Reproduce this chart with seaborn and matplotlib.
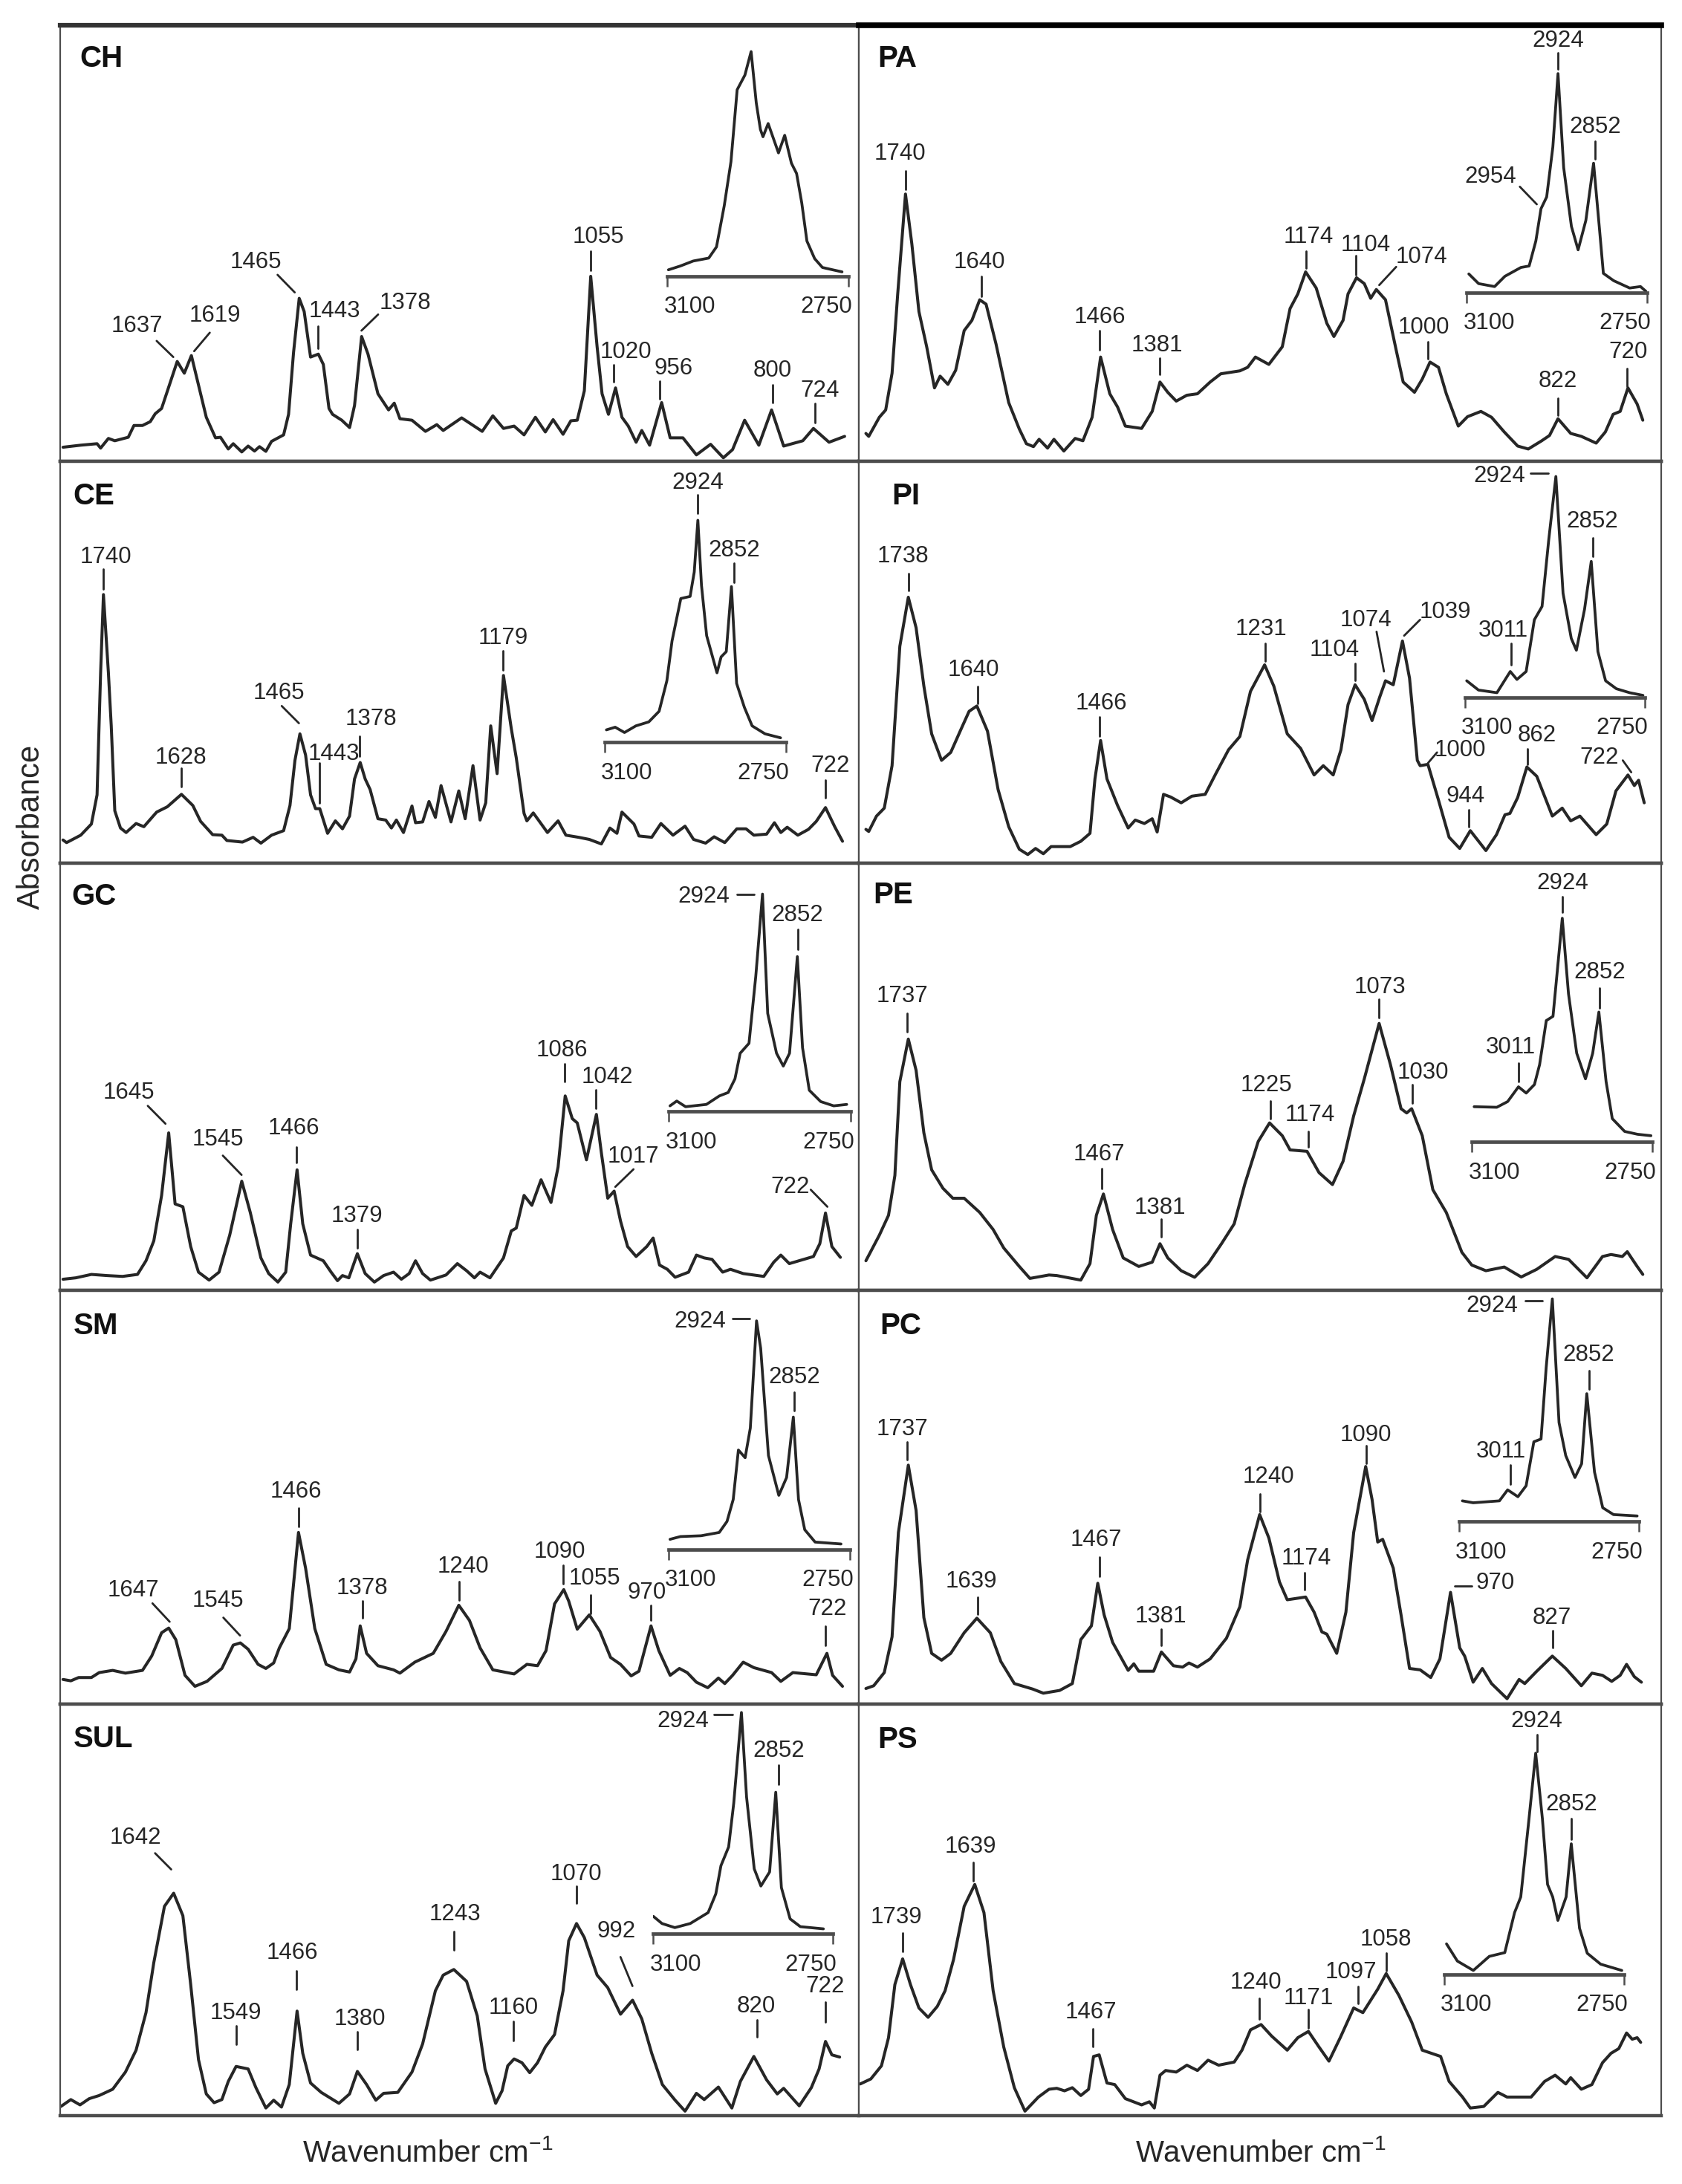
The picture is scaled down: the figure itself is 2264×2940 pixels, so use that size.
#!/usr/bin/env python3
"""FTIR spectra of lipid classes, ten panels with CH stretch insets."""

import matplotlib
matplotlib.use("Agg")
import matplotlib.pyplot as plt
import seaborn as sns
from matplotlib.lines import Line2D
from matplotlib.transforms import ScaledTranslation

# ---- spectra: wavenumber (cm-1) and absorbance (arbitrary units) ----
CH_WN = [1797,1772,1749,1744,1733,1724,1705,1697,1685,1674,1667,1658,1647,1636,1626,1616,1606,1595,1582,1575,1564,1557,1545,1536,1527,1520,1511,1503,1486,1479,1472,1464,1457,1448,1437,1430,1422,1417,1404,1393,1386,1376,1367,1353,1338,1330,1322,1305,1286,1270,1261,1235,1206,1191,1176,1161,1147,1131,1117,1106,1092,1081,1072,1062,1053,1044,1037,1028,1018,1009,1000,989,981,970,953,941,923,904,884,866,853,836,816,798,781,754,739,717,695]
CH_ABS = [28,35,40,25,58,50,62,102,102,115,142,160,240,320,280,340,240,130,60,62,22,40,12,32,15,30,14,48,70,140,350,535,490,335,345,310,160,140,120,95,170,405,345,210,155,178,125,120,82,105,85,128,82,135,92,100,70,130,80,122,72,118,120,220,610,370,210,140,230,130,100,45,85,35,180,60,60,2,38,-8,20,120,35,155,32,50,92,45,65]
CH_INSET_WN = [3098,3075,3050,3020,3005,2990,2977,2965,2950,2938,2928,2920,2915,2905,2885,2873,2860,2850,2840,2830,2815,2800,2780,2762]
CH_INSET_ABS = [632,645,662,672,710,850,1000,1245,1295,1375,1200,1110,1085,1130,1030,1090,995,960,860,730,670,640,632,625]

CE_WN = [1797,1792,1772,1757,1749,1744,1740,1733,1729,1724,1716,1708,1694,1683,1665,1650,1630,1614,1603,1586,1573,1566,1544,1529,1518,1503,1486,1477,1470,1463,1455,1448,1441,1435,1424,1413,1403,1393,1386,1378,1371,1364,1353,1342,1334,1327,1317,1305,1300,1290,1281,1272,1264,1250,1239,1230,1219,1209,1201,1194,1185,1176,1165,1158,1147,1143,1134,1114,1099,1088,1070,1055,1038,1026,1016,1009,992,985,967,954,937,920,908,891,879,864,847,834,823,805,794,785,776,761,746,735,722,709,698]
CE_ABS = [70,60,88,130,240,700,995,700,500,180,115,98,132,120,175,195,242,200,140,90,88,68,62,80,58,88,105,200,370,470,390,240,188,188,95,142,112,160,300,362,300,260,150,145,115,145,98,198,135,138,215,155,275,138,255,150,350,145,210,500,320,690,490,380,170,142,172,98,142,88,80,72,55,115,95,175,130,85,80,132,88,122,72,58,82,60,112,112,88,92,135,98,118,88,110,140,192,120,65]
CE_INSET_WN = [3097,3080,3062,3040,3015,2995,2980,2970,2953,2935,2927,2920,2913,2903,2883,2875,2865,2855,2845,2830,2815,2790,2760]
CE_INSET_ABS = [485,495,475,500,515,555,670,820,980,988,1080,1275,1030,840,700,760,780,1025,660,570,500,470,455]

GC_WN = [1797,1779,1757,1735,1713,1692,1680,1669,1658,1648,1639,1628,1617,1606,1591,1577,1562,1545,1533,1518,1507,1494,1483,1476,1467,1459,1448,1430,1419,1410,1403,1394,1382,1371,1358,1345,1331,1320,1309,1300,1290,1279,1257,1241,1228,1217,1209,1195,1176,1165,1158,1147,1136,1123,1109,1099,1089,1079,1072,1059,1045,1038,1029,1020,1011,1001,989,974,965,956,945,934,915,904,893,882,867,856,838,809,795,785,773,739,730,722,713,701]
GC_ABS = [5,10,22,18,15,22,70,140,300,520,270,260,120,30,2,30,160,350,240,80,25,-5,30,200,390,200,90,70,30,0,18,10,95,25,-5,18,30,5,25,70,25,2,20,60,35,10,30,10,80,175,185,300,265,355,275,400,650,570,555,425,585,450,290,315,210,120,85,120,150,55,40,12,30,90,80,75,30,40,25,15,65,90,60,85,130,238,120,82]
GC_INSET_WN = [3098,3085,3068,3028,3003,2986,2973,2963,2946,2933,2920,2910,2893,2880,2868,2853,2843,2830,2808,2783,2758]
GC_INSET_ABS = [615,632,612,620,650,662,710,800,835,1070,1360,940,800,755,800,1140,820,670,630,615,620]

SM_WN = [1797,1786,1775,1757,1746,1727,1709,1685,1672,1658,1648,1638,1625,1611,1594,1573,1557,1547,1536,1522,1511,1500,1492,1478,1465,1455,1442,1426,1408,1393,1384,1378,1369,1353,1331,1322,1301,1275,1257,1239,1224,1209,1191,1161,1143,1128,1116,1104,1091,1084,1072,1055,1040,1025,1011,996,985,968,957,941,928,917,904,888,873,864,853,838,823,798,785,768,735,720,712,698]
SM_ABS = [65,60,72,72,90,98,88,98,150,235,252,210,80,40,58,105,190,198,175,120,105,125,180,250,600,470,250,120,100,92,140,260,160,115,100,88,128,160,240,335,280,180,100,85,120,115,170,340,392,350,248,300,240,145,120,78,95,260,170,80,105,90,55,35,70,50,80,128,108,90,58,90,82,160,80,40]
SM_INSET_WN = [3097,3077,3037,3002,2987,2975,2965,2952,2942,2930,2922,2907,2887,2872,2859,2849,2837,2817,2767]
SM_INSET_ABS = [575,585,588,600,640,720,900,872,980,1370,1270,880,735,800,1020,720,610,565,558]

SUL_WN = [1800,1786,1773,1760,1746,1727,1709,1694,1680,1669,1654,1641,1628,1617,1606,1595,1584,1573,1564,1553,1536,1525,1511,1500,1489,1478,1467,1459,1448,1433,1408,1393,1382,1369,1356,1345,1325,1305,1290,1272,1261,1246,1228,1213,1202,1187,1178,1170,1161,1150,1139,1128,1117,1104,1092,1084,1073,1062,1044,1029,1011,994,981,967,952,934,920,904,893,873,854,842,823,805,790,781,759,742,731,722,713,702]
SUL_ABS = [180,202,185,205,215,235,290,360,480,640,820,862,790,570,330,220,192,202,260,308,300,240,175,200,178,250,485,350,255,225,190,220,292,250,200,222,225,290,380,550,600,618,580,470,300,190,230,310,332,320,288,320,370,410,550,710,765,720,600,560,475,520,460,350,250,200,165,222,202,242,175,260,340,265,220,238,182,240,300,388,345,338]
SUL_INSET_WN = [3100,3083,3058,3028,2993,2978,2968,2953,2943,2928,2918,2903,2890,2873,2861,2850,2833,2813,2768]
SUL_INSET_ABS = [788,765,752,765,800,860,950,1010,1150,1440,1170,940,885,930,1185,880,780,755,748]

PA_WN = [1796,1792,1777,1768,1759,1751,1740,1731,1721,1710,1699,1691,1680,1669,1657,1646,1635,1626,1612,1594,1579,1569,1559,1551,1539,1530,1516,1500,1489,1476,1464,1451,1440,1429,1406,1391,1380,1369,1357,1342,1327,1309,1294,1267,1256,1245,1226,1207,1196,1185,1174,1159,1144,1134,1121,1114,1102,1091,1082,1074,1061,1046,1036,1020,1009,998,986,975,958,945,926,911,893,874,859,840,829,817,799,784,763,750,739,729,718,705,697]
PA_ABS = [75,65,130,155,280,550,890,720,490,370,230,270,242,290,425,460,530,515,380,180,90,40,30,55,25,55,15,58,50,130,335,210,165,100,92,150,250,215,185,205,210,250,278,288,300,335,310,370,500,550,625,570,450,405,460,550,605,585,535,565,530,360,250,215,260,318,300,210,100,132,150,130,80,32,22,50,68,125,75,65,42,80,140,150,230,175,120]
PA_INSET_WN = [3096,3077,3046,3026,2995,2979,2966,2956,2945,2933,2923,2912,2897,2884,2869,2854,2843,2835,2815,2784,2763,2750]
PA_INSET_ABS = [618,585,575,610,640,645,730,840,880,1050,1300,980,780,700,800,995,780,620,595,570,575,555]

PI_WN = [1796,1792,1781,1770,1759,1748,1736,1725,1714,1703,1689,1676,1661,1650,1639,1624,1609,1594,1579,1567,1556,1545,1534,1507,1492,1479,1472,1464,1455,1440,1425,1415,1402,1391,1384,1375,1365,1350,1335,1316,1301,1283,1267,1252,1232,1219,1200,1181,1162,1149,1135,1124,1114,1104,1091,1080,1069,1061,1050,1037,1027,1016,1012,1001,986,971,956,941,919,904,892,885,874,861,847,825,811,799,786,763,748,735,718,709,703,695]
PI_ABS = [110,102,160,190,350,800,985,870,650,470,370,400,490,555,575,480,260,120,35,15,38,18,45,45,65,95,300,445,300,200,115,145,132,150,100,242,232,210,235,242,320,410,460,630,730,650,470,415,315,350,315,410,580,655,600,520,610,670,655,820,680,370,350,355,220,80,38,105,30,90,165,170,230,345,310,160,190,142,160,90,130,255,315,275,295,210]
PI_INSET_WN = [3097,3074,3038,3012,2999,2981,2965,2950,2937,2923,2909,2893,2883,2867,2854,2841,2826,2805,2779,2753]
PI_INSET_ABS = [670,635,625,705,675,705,900,950,1200,1440,1000,830,785,940,1120,780,670,640,625,615]

PE_WN = [1796,1777,1764,1755,1748,1736,1725,1714,1703,1687,1673,1657,1635,1616,1601,1579,1564,1537,1526,1492,1479,1470,1460,1447,1432,1410,1391,1380,1369,1350,1331,1312,1293,1275,1260,1241,1225,1207,1196,1172,1155,1136,1121,1106,1091,1070,1054,1039,1031,1024,1009,994,975,953,939,919,893,869,847,821,802,776,754,742,726,719,705,697]
PE_ABS = [70,160,230,370,700,850,740,520,390,325,290,290,240,180,115,50,8,20,18,2,60,230,305,180,80,50,65,130,80,35,12,60,130,200,340,490,555,510,460,455,380,338,420,580,710,905,760,605,590,605,510,320,240,100,55,35,48,13,40,85,75,10,85,92,85,102,50,22]
PE_INSET_WN = [3096,3052,3031,3010,2995,2979,2969,2956,2943,2925,2913,2897,2880,2866,2854,2840,2828,2804,2779,2753]
PE_INSET_ABS = [612,610,630,682,660,690,760,915,930,1275,1010,800,710,800,945,700,570,525,515,510]

PC_WN = [1796,1785,1770,1759,1750,1736,1725,1714,1703,1689,1676,1657,1639,1620,1605,1586,1560,1545,1522,1504,1492,1477,1468,1459,1447,1425,1417,1410,1389,1378,1361,1348,1339,1327,1309,1286,1267,1256,1239,1226,1211,1200,1174,1162,1151,1144,1130,1117,1106,1089,1080,1072,1065,1050,1039,1027,1012,997,984,969,956,949,937,924,911,889,872,864,847,825,806,784,769,754,741,729,720,709,699]
PC_ABS = [32,42,90,220,600,845,680,290,160,135,160,235,288,235,130,50,30,15,25,50,210,260,415,300,200,98,122,95,95,165,115,110,125,110,140,215,330,500,665,580,420,355,365,310,238,230,160,310,600,840,720,565,575,470,300,105,100,72,140,382,180,150,55,105,50,-5,65,50,95,150,105,42,88,80,58,80,120,75,55]
PC_INSET_WN = [3093,3072,3021,3005,2985,2969,2954,2940,2930,2918,2905,2892,2874,2861,2851,2836,2820,2799,2753]
PC_INSET_ABS = [715,708,715,755,730,770,930,940,1200,1450,1000,880,800,850,1105,820,690,665,660]

PS_WN = [1804,1789,1774,1764,1755,1744,1733,1721,1708,1695,1684,1672,1657,1642,1629,1616,1601,1586,1571,1552,1537,1526,1515,1504,1492,1481,1474,1466,1455,1444,1429,1406,1395,1388,1380,1372,1357,1342,1327,1312,1297,1275,1264,1252,1237,1222,1200,1185,1170,1155,1141,1125,1106,1093,1072,1060,1042,1024,1009,983,971,952,941,922,902,889,855,836,821,806,799,784,769,754,742,731,720,712,705,700]
PS_ABS = [252,268,310,400,570,652,570,495,465,500,550,650,820,890,800,550,370,240,165,210,235,238,230,240,215,235,340,345,255,250,205,185,195,175,280,295,290,312,295,328,312,322,360,425,442,405,360,400,420,370,325,400,495,480,555,605,535,450,360,340,260,210,175,180,225,210,210,260,280,252,272,235,250,320,350,365,415,395,400,385]
PS_INSET_WN = [3095,3074,3043,3012,2982,2963,2951,2935,2922,2909,2899,2889,2879,2863,2853,2837,2822,2796,2755]
PS_INSET_ABS = [700,645,615,660,672,800,850,1100,1310,1100,890,850,775,850,1020,750,670,635,615]

# ---- layout below is in a reference grid per panel, not data ----
FIG_W, FIG_H = 2264, 2940
COL_EDGES = {"L": (81, 1156), "R": (1156, 2236)}
COL_WN = {"L": (1801, 675), "R": (1806, 671)}
ROW_EDGES = [34, 621, 1162, 1737, 2294, 2848]
COL_GRID = {"L": (60, 1568 / 1100), "R": (1140, 1568 / 1120)}
ROW_GRID = [(20, 1568 / 620), (620, 2.8), (1150, 1568 / 600), (1730, 1568 / 580), (2280, 1568 / 660)]
ABS_REF = 1500

# (label, text x, text y, seg x0, seg y0, seg x1, seg y1)
CH_MARKS = [("1637",178,1060,215,1110,247,1165),("1619",327,1025,317,1082,287,1145),("1465",405,842,447,885,480,945),("1443",557,1008,524,1060,524,1135),("1378",692,982,640,1020,608,1075),("1055",1062,755,1048,805,1048,870),("1020",1115,1148,1092,1190,1092,1250),("956",1207,1203,1180,1248,1180,1308),("800",1397,1212,1397,1260,1397,1320),("724",1487,1280,1478,1322,1478,1388)]
CE_MARKS = [("1740",118,365,112,410,112,483),("1628",262,1120,262,1158,262,1230),("1465",450,875,455,925,488,990),("1443",555,1105,528,1140,528,1290),("1378",627,975,605,1040,605,1115),("1179",880,668,880,718,880,790),("722",1507,1150,1498,1205,1498,1270),("2924",1253,83,1253,130,1253,200),("2852",1323,340,1323,385,1323,460)]
GC_MARKS = [("1645",162,838,198,885,232,948),("1545",332,1003,342,1060,378,1128),("1466",478,965,483,1030,483,1085),("1379",600,1272,600,1320,600,1385),("1086",992,690,998,738,998,800),("1042",1080,785,1057,828,1057,895),("1017",1130,1063,1130,1108,1095,1170),("722",1430,1170,1470,1180,1502,1240),("2924",1265,150,1328,142,1362,142),("2852",1445,215,1445,265,1445,335)]
SM_MARKS = [("1647",170,1112,207,1158,240,1225),("1545",332,1150,343,1210,375,1275),("1466",483,752,487,812,487,878),("1378",610,1103,610,1150,610,1210),("1240",803,1025,795,1080,795,1145),("1090",988,970,995,1020,995,1088),("1055",1055,1068,1048,1128,1048,1195),("970",1155,1120,1163,1165,1163,1218),("722",1502,1180,1498,1240,1498,1310),("2924",1257,133,1320,122,1353,122),("2852",1438,335,1438,388,1438,458)]
SUL_MARKS = [("1642",175,460,212,510,243,562),("1549",367,1022,368,1062,368,1122),("1466",475,828,483,885,483,945),("1380",605,1040,600,1082,600,1138),("1243",787,705,785,760,785,820),("1160",900,1005,900,1048,900,1110),("1070",1020,578,1020,615,1020,670),("992",1097,760,1105,842,1128,935),("820",1365,1000,1367,1042,1367,1098),("722",1498,935,1498,985,1498,1050),("2924",1225,87,1285,67,1320,67),("2852",1408,183,1408,228,1408,290)]
PA_MARKS = [("1740",100,472,110,530,110,595),("1640",250,842,254,890,254,958),("1466",476,1030,476,1075,476,1140),("1381",585,1125,589,1168,589,1225),("1174",870,755,865,805,865,862),("1104",978,785,959,820,959,885),("1074",1083,825,1035,858,1003,920),("1000",1087,1065,1095,1112,1095,1170),("822",1340,1248,1340,1305,1340,1362),("720",1472,1148,1470,1205,1470,1265),("2954",1212,552,1268,585,1300,645),("2924",1340,88,1340,130,1340,185),("2852",1410,383,1410,430,1410,490)]
PI_MARKS = [("1738",105,362,116,425,116,490),("1640",238,790,246,850,246,915),("1466",480,915,476,965,476,1038),("1231",780,635,788,690,788,755),("1104",918,715,958,765,958,830),("1074",978,603,998,645,1012,795),("1039",1128,572,1080,600,1050,660),("1000",1155,1092,1112,1100,1095,1140),("944",1165,1265,1172,1315,1172,1380),("862",1300,1035,1282,1085,1282,1145),("722",1417,1120,1462,1130,1478,1175),("2924",1230,60,1288,47,1322,47),("3011",1237,640,1252,690,1252,770),("2852",1405,230,1405,290,1405,360)]
PE_MARKS = [("1737",105,500,113,560,113,625),("1467",475,1055,480,1105,480,1175),("1381",590,1245,592,1282,592,1345),("1225",790,812,798,868,798,930),("1174",873,918,870,975,870,1030),("1073",1005,468,1003,510,1003,575),("1030",1085,768,1065,810,1065,875),("2924",1348,103,1348,148,1348,205),("3011",1250,680,1265,735,1265,800),("2852",1418,415,1418,470,1418,540)]
PC_MARKS = [("1737",105,525,113,570,113,635),("1639",235,1078,246,1135,246,1198),("1467",470,928,476,990,476,1060),("1381",592,1205,592,1252,592,1312),("1240",795,698,778,760,778,825),("1174",865,995,862,1045,862,1108),("1090",978,545,978,585,978,648),("970",1222,1085,1145,1095,1178,1095),("827",1328,1210,1330,1258,1330,1318),("2924",1215,77,1278,57,1310,57),("3011",1233,605,1250,655,1250,725),("2852",1398,255,1398,312,1398,378)]
PS_MARKS = [("1639",233,490,238,540,238,598),("1739",93,715,105,765,105,825),("1467",460,1020,463,1072,463,1128),("1240",770,925,777,975,777,1040),("1171",870,975,870,1010,870,1070),("1097",950,890,963,935,963,990),("1058",1015,787,1017,830,1017,885),("2924",1300,87,1300,130,1300,185),("2852",1365,353,1365,398,1365,465)]

# name, column, row, spectrum, inset, marks, tag position, bracket (x0, x1, y)
PANELS = [
    ("CH", "L", 0, CH_WN, CH_ABS, CH_INSET_WN, CH_INSET_ABS, CH_MARKS, (68, 148), (1195, 1542, 890)),
    ("CE", "L", 1, CE_WN, CE_ABS, CE_INSET_WN, CE_INSET_ABS, CE_MARKS, (55, 135), (1075, 1422, 1062)),
    ("GC", "L", 2, GC_WN, GC_ABS, GC_INSET_WN, GC_INSET_ABS, GC_MARKS, (52, 148), (1198, 1547, 905)),
    ("SM", "L", 3, SM_WN, SM_ABS, SM_INSET_WN, SM_INSET_ABS, SM_MARKS, (55, 150), (1197, 1545, 962)),
    ("SUL", "L", 4, SUL_WN, SUL_ABS, SUL_INSET_WN, SUL_INSET_ABS, SUL_MARKS, (55, 145), (1168, 1512, 768)),
    ("PA", "R", 0, PA_WN, PA_ABS, PA_INSET_WN, PA_INSET_ABS, PA_MARKS, (58, 150), (1168, 1508, 945)),
    ("PI", "R", 1, PI_WN, PI_ABS, PI_INSET_WN, PI_INSET_ABS, PI_MARKS, (85, 135), (1165, 1503, 893)),
    ("PE", "R", 2, PE_WN, PE_ABS, PE_INSET_WN, PE_INSET_ABS, PE_MARKS, (50, 145), (1178, 1518, 1012)),
    ("PC", "R", 3, PC_WN, PC_ABS, PC_INSET_WN, PC_INSET_ABS, PC_MARKS, (62, 150), (1153, 1492, 860)),
    ("PS", "R", 4, PS_WN, PS_ABS, PS_INSET_WN, PS_INSET_ABS, PS_MARKS, (58, 148), (1125, 1465, 898)),
]

INK = "#262626"
FRAME = "#4d4d4d"
LABEL_SIZE = 22.5
LINE_W = 2.9

sns.set_theme(style="white")
plt.rcParams["font.family"] = ["Liberation Sans", "DejaVu Sans"]
plt.rcParams["mathtext.default"] = "regular"
fig = plt.figure(figsize=(FIG_W / 100, FIG_H / 100), dpi=100)


def fx(px):
    return px / FIG_W


def fy(py):
    return 1 - py / FIG_H


def rect(x0, x1, y0, y1):
    return [fx(x0), fy(y1), fx(x1) - fx(x0), fy(y0) - fy(y1)]


def draw_panel(name, col, row, wn, ab, inset_wn, inset_ab, marks, tag, bracket):
    gx0, gsx = COL_GRID[col]
    gy0, gsy = ROW_GRID[row]
    to_x = lambda v: gx0 + v / gsx
    to_y = lambda v: gy0 + v / gsy
    x0, x1 = COL_EDGES[col]
    y0, y1 = ROW_EDGES[row], ROW_EDGES[row + 1]
    ylim = (ABS_REF - (y1 - gy0) * gsy, ABS_REF - (y0 - gy0) * gsy)

    ax = fig.add_axes(rect(x0, x1, y0, y1))
    sns.lineplot(x=wn, y=ab, ax=ax, color=INK, lw=LINE_W, estimator=None, sort=False, legend=False,
                 solid_joinstyle="round")
    ax.set_xlim(*COL_WN[col])
    ax.set_ylim(*ylim)
    ax.set_xticks([])
    ax.set_yticks([])
    ax.set_xlabel("")
    ax.set_ylabel("")
    for side, spine in ax.spines.items():
        spine.set_visible(True)
        spine.set_color(FRAME)
        spine.set_linewidth(3.2 if side in ("top", "bottom") else 1.6)
    if row == 0:
        ax.spines["top"].set_linewidth(5.5 if col == "R" else 4.5)
        ax.spines["top"].set_color("#000000" if col == "R" else "#333333")

    # CH stretch inset shares the panel's vertical scale
    bx0, bx1, by = bracket
    ins = fig.add_axes(rect(to_x(bx0), to_x(bx1), y0, y1))
    ins.patch.set_alpha(0)
    sns.lineplot(x=inset_wn, y=inset_ab, ax=ins, color=INK, lw=LINE_W - 0.2, estimator=None, sort=False, legend=False,
                 solid_joinstyle="round")
    ins.set_xlim(3100, 2750)
    ins.set_ylim(*ylim)
    ins.set_yticks([])
    ins.set_xlabel("")
    ins.set_ylabel("")
    for side in ("top", "left", "right"):
        ins.spines[side].set_visible(False)
    ins.spines["bottom"].set_visible(True)
    ins.spines["bottom"].set_position(("data", ABS_REF - by))
    ins.spines["bottom"].set_color(FRAME)
    ins.spines["bottom"].set_linewidth(3.4)
    ins.set_xticks([3100, 2750], labels=["3100", "2750"])
    ins.tick_params(axis="x", bottom=True, length=10, width=1.8, color=FRAME, pad=9,
                    labelsize=LABEL_SIZE, labelcolor=INK)
    tick_labels = ins.get_xticklabels()
    tick_labels[0].set_ha("left")
    tick_labels[1].set_ha("right")
    nudge = 5 / 100
    tick_labels[0].set_transform(tick_labels[0].get_transform() + ScaledTranslation(-nudge, 0, fig.dpi_scale_trans))
    tick_labels[1].set_transform(tick_labels[1].get_transform() + ScaledTranslation(nudge, 0, fig.dpi_scale_trans))

    for text, tx, ty, sx0, sy0, sx1, sy1 in marks:
        fig.text(fx(to_x(tx)), fy(to_y(ty)), text, ha="center", va="center",
                 fontsize=LABEL_SIZE, color=INK, zorder=5)
        fig.add_artist(Line2D([fx(to_x(sx0)), fx(to_x(sx1))], [fy(to_y(sy0)), fy(to_y(sy1))],
                              color=INK, lw=2.0, transform=fig.transFigure))
    fig.text(fx(to_x(tag[0])), fy(to_y(tag[1])), name, ha="left", va="center",
             fontsize=29, fontweight="bold", color="#111111")


for panel in PANELS:
    draw_panel(*panel)

fig.text(fx(576), fy(2899), "Wavenumber cm$^{-1}$", ha="center", va="center", fontsize=29, color=INK)
fig.text(fx(1697), fy(2899), "Wavenumber cm$^{-1}$", ha="center", va="center", fontsize=29, color=INK)
fig.text(fx(42), fy(1113), "Absorbance", rotation=90, ha="center", va="center", fontsize=30, color=INK)

fig.savefig("out.png", dpi=100, facecolor="white")
